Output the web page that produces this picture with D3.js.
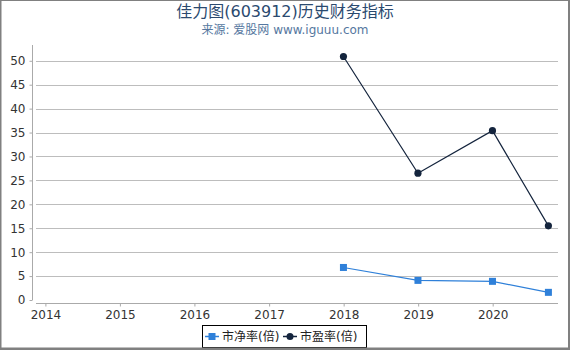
<!DOCTYPE html>
<html><head><meta charset="utf-8">
<script src="https://cdn.jsdelivr.net/npm/d3@7"></script>
<style>
html,body{margin:0;padding:0;background:#fff;}
svg{display:block;font-family:"DejaVu Sans","Noto Sans CJK SC",sans-serif;}
</style></head>
<body>
<svg id="c" width="570" height="350"></svg>
<script>
const dates = ["2017-12-31","2018-12-31","2019-12-31","2020-09-30"];
const pb = [6.8, 4.1, 3.9, 1.6];
const pe = [50.9, 26.5, 35.4, 15.5];
const yTicks = [0,5,10,15,20,25,30,35,40,45,50];
const xTickYears = [2014,2015,2016,2017,2018,2019,2020];
const seriesNames = ["市净率(倍)","市盈率(倍)"];
const colors = ["#2f80d9","#14243d"];

(function(){
const parse = d3.timeParse("%Y-%m-%d");
const svg = d3.select("#c");
const W = 570, H = 350;
const pLeft = 36, pRight = 558, pTop = 45, pBottom = 300;

const x = d3.scaleTime().domain([parse("2013-11-16"), parse("2020-11-16")]).range([pLeft, pRight]);
const y = d3.scaleLinear().domain([0, 53.3]).range([pBottom, pTop]);

svg.append("rect").attr("width",W).attr("height",H).attr("fill","#fff");

// gridlines
svg.append("g").selectAll("line").data(yTicks.filter(v=>v>0)).join("line")
  .attr("x1",pLeft).attr("x2",pRight)
  .attr("y1",d=>Math.round(y(d))+0.5).attr("y2",d=>Math.round(y(d))+0.5)
  .attr("stroke","#bdbdbd").attr("stroke-width",1);

// y axis
const yAxis = d3.axisLeft(y).tickValues(yTicks).tickSize(3).tickPadding(4);
const gy = svg.append("g").attr("transform","translate(32.5,0)").call(yAxis);
gy.select(".domain").attr("stroke","#aaa").attr("d",`M0,${pTop}V${pBottom}`);
gy.selectAll(".tick line").attr("stroke","#aaa");
gy.selectAll("text").attr("fill","#333").style("font-size","12px").style("font-family","DejaVu Sans");

// x axis
const xAxis = d3.axisBottom(x).tickValues(xTickYears.map(yy=>new Date(yy,0,1)))
  .tickFormat(d3.timeFormat("%Y")).tickSize(3).tickPadding(4);
const gx = svg.append("g").attr("transform","translate(0,303.5)").call(xAxis);
gx.select(".domain").attr("stroke","#aaa").attr("d",`M${pLeft},0H${pRight}`);
gx.selectAll(".tick line").attr("stroke","#aaa");
gx.selectAll("text").attr("fill","#333").style("font-size","12px").style("font-family","DejaVu Sans");

const line = d3.line().x(d=>x(d.date)).y(d=>y(d.v));
const pbData = dates.map((d,i)=>({date:parse(d), v:pb[i]}));
const peData = dates.map((d,i)=>({date:parse(d), v:pe[i]}));

svg.append("path").datum(pbData).attr("d",line).attr("fill","none")
  .attr("stroke",colors[0]).attr("stroke-width",1.2);
svg.append("g").selectAll("rect").data(pbData).join("rect")
  .attr("x",d=>x(d.date)-3.5).attr("y",d=>y(d.v)-3.5).attr("width",7).attr("height",7)
  .attr("fill",colors[0]);

svg.append("path").datum(peData).attr("d",line).attr("fill","none")
  .attr("stroke",colors[1]).attr("stroke-width",1.2);
svg.append("g").selectAll("circle").data(peData).join("circle")
  .attr("cx",d=>x(d.date)).attr("cy",d=>y(d.v)).attr("r",3.6)
  .attr("fill",colors[1]);

// titles
svg.append("text").attr("x",285).attr("y",17).attr("text-anchor","middle")
  .attr("fill","#2b4a6f").style("font-size","16px")
  .style("font-family","'DejaVu Sans','Noto Sans CJK SC'")
  .text("佳力图(603912)历史财务指标");
svg.append("text").attr("x",285).attr("y",34).attr("text-anchor","middle")
  .attr("fill","#5577a0").style("font-size","12px")
  .style("font-family","'DejaVu Sans','Noto Sans CJK SC'")
  .text("来源: 爱股网 www.iguuu.com");

// legend
const lg = svg.append("g");
lg.append("rect").attr("x",202.5).attr("y",325.5).attr("width",164).attr("height",22)
  .attr("fill","#fff").attr("stroke","#000").attr("stroke-width",1);
const items = [{x:205, name:seriesNames[0], c:colors[0], shape:"rect"},
               {x:283, name:seriesNames[1], c:colors[1], shape:"circle"}];
items.forEach(it=>{
  lg.append("line").attr("x1",it.x).attr("x2",it.x+14).attr("y1",336.5).attr("y2",336.5)
    .attr("stroke",it.c).attr("stroke-width",1.5);
  if(it.shape==="rect") lg.append("rect").attr("x",it.x+3.5).attr("y",333).attr("width",7).attr("height",7).attr("fill",it.c);
  else lg.append("circle").attr("cx",it.x+7).attr("cy",336.5).attr("r",3.5).attr("fill",it.c);
  lg.append("text").attr("x",it.x+17).attr("y",341).attr("fill","#222")
    .style("font-size","12px").style("font-family","'DejaVu Sans','Noto Sans CJK SC'").text(it.name);
});

// outer frame
svg.append("rect").attr("x",0).attr("y",0).attr("width",1.5).attr("height",H).attr("fill","#808080");
svg.append("rect").attr("x",0).attr("y",0).attr("width",W).attr("height",1).attr("fill","#808080");
svg.append("rect").attr("x",568).attr("y",0).attr("width",2).attr("height",H).attr("fill","#808080");
svg.append("rect").attr("x",0).attr("y",347.5).attr("width",W).attr("height",2.5).attr("fill","#808080");
})();
</script>
</body></html>
